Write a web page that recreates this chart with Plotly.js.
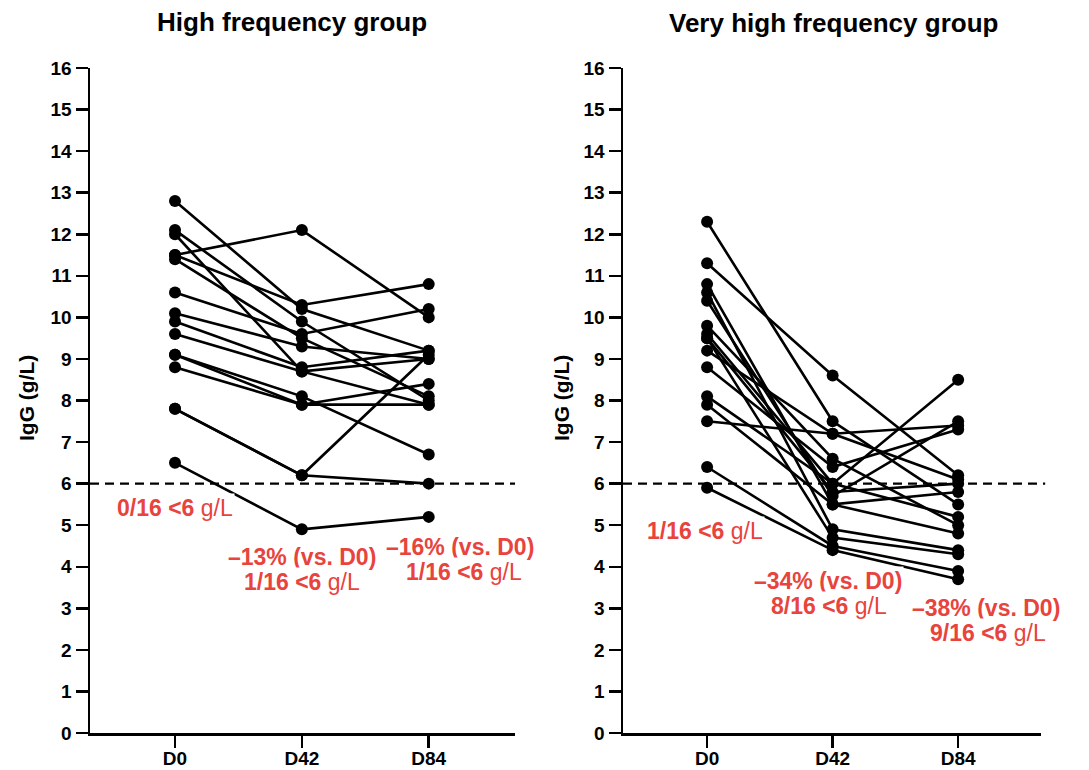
<!DOCTYPE html>
<html>
<head>
<meta charset="utf-8">
<script src="https://cdn.plot.ly/plotly-3.0.1.min.js"></script>
<style>
html,body{margin:0;padding:0;background:#fff;}
#chart{width:1089px;height:770px;}
</style>
</head>
<body>
<div id="chart"></div>
<script>
// ---------- data ----------
const categories = ['D0', 'D42', 'D84'];

// High frequency group: one value per subject at each visit
const highD0  = [12.8, 11.5, 12.1, 12.0, 11.5, 11.4, 10.6, 10.1, 9.9, 9.6, 9.1, 9.1, 8.8, 7.8, 7.8, 6.5];
const highD42 = [10.2, 12.1, 9.9, 8.7, 10.3, 9.5, 9.6, 9.3, 8.8, 8.7, 8.1, 7.9, 7.9, 6.2, 6.2, 4.9];
const highD84 = [9.2, 10.0, 8.0, 7.9, 10.8, 8.1, 10.2, 9.0, 9.2, 9.0, 6.7, 7.9, 8.4, 6.0, 9.1, 5.2];

// Very high frequency group
const vhighD0  = [12.3, 11.3, 10.8, 10.6, 10.4, 9.8, 9.6, 9.5, 9.5, 9.2, 8.8, 8.1, 7.9, 7.5, 6.4, 5.9];
const vhighD42 = [7.5, 8.6, 5.5, 4.9, 5.7, 6.6, 6.0, 5.8, 4.7, 7.2, 6.4, 6.0, 5.5, 7.2, 4.5, 4.4];
const vhighD84 = [5.5, 6.2, 4.8, 4.4, 7.5, 5.0, 8.5, 6.0, 4.3, 6.1, 7.3, 5.2, 5.8, 7.4, 3.9, 3.7];

const THRESHOLD = 6;
const yMin = 0, yMax = 16, yStep = 1;

const panelTitles = ['High frequency group', 'Very high frequency group'];
const yAxisTitle = 'IgG (g/L)';

const highNotes  = ['<b>0/16 &lt;6</b> g/L', '<b>\u201313% (vs. D0)</b>', '<b>1/16 &lt;6</b> g/L', '<b>\u201316% (vs. D0)</b>', '<b>1/16 &lt;6</b> g/L'];
const vhighNotes = ['<b>1/16 &lt;6</b> g/L', '<b>\u201334% (vs. D0)</b>', '<b>8/16 &lt;6</b> g/L', '<b>\u201338% (vs. D0)</b>', '<b>9/16 &lt;6</b> g/L'];

// ---------- build ----------
const FONT = '"Liberation Sans", Arial, Helvetica, sans-serif';
const RED = '#e8433c';
const traces = [];

function addPanel(d0, d42, d84, xa, ya) {
  for (let i = 0; i < d0.length; i++) {
    traces.push({
      type: 'scatter',
      mode: 'lines+markers',
      x: categories,
      y: [d0[i], d42[i], d84[i]],
      xaxis: xa, yaxis: ya,
      line: {color: '#000', width: 2.6},
      marker: {color: '#000', size: 12},
      cliponaxis: false,
      hoverinfo: 'skip',
      showlegend: false
    });
  }
}
addPanel(highD0, highD42, highD84, 'x', 'y');
addPanel(vhighD0, vhighD42, vhighD84, 'x2', 'y2');

function xAxis(domain, range, anchor) {
  return {
    domain: domain, anchor: anchor, type: 'category', range: range,
    showline: true, linecolor: '#000', linewidth: 2.5,
    ticks: 'outside', ticklen: 12, tickwidth: 2.5, tickcolor: '#000',
    ticklabelstandoff: -5,
    tickfont: {family: FONT, size: 19, color: '#000', weight: 'bold'},
    showgrid: false, zeroline: false, fixedrange: true
  };
}
function yAxis(domain, anchor) {
  return {
    domain: domain, anchor: anchor, range: [yMin, yMax], tick0: yMin, dtick: yStep,
    showline: true, linecolor: '#000', linewidth: 2.5,
    ticks: 'outside', ticklen: 12, tickwidth: 2.5, tickcolor: '#000',
    tickfont: {family: FONT, size: 19, color: '#000', weight: 'bold'},
    showgrid: false, zeroline: false, fixedrange: true
  };
}

function note(text, x, y, xref, yref) {
  return {
    text: text, x: x, y: y, xref: xref, yref: yref, showarrow: false,
    xanchor: 'center', yanchor: 'middle',
    font: {family: FONT, size: 23, color: RED},
    bgcolor: '#ffffff', borderpad: 1
  };
}

const annotations = [
  {text: '<b>' + panelTitles[0] + '</b>', xref: 'paper', yref: 'paper', x: 292 / 1089, y: 1 - 22 / 770,
   showarrow: false, xanchor: 'center', yanchor: 'middle', font: {family: FONT, size: 26, color: '#000'}},
  {text: '<b>' + panelTitles[1] + '</b>', xref: 'paper', yref: 'paper', x: 833 / 1089, y: 1 - 23 / 770,
   showarrow: false, xanchor: 'center', yanchor: 'middle', font: {family: FONT, size: 26, color: '#000'}},
  {text: '<b>' + yAxisTitle + '</b>', xref: 'paper', yref: 'paper', x: 27 / 1089, y: 1 - 398 / 770, textangle: -90,
   showarrow: false, xanchor: 'center', yanchor: 'middle', font: {family: FONT, size: 21, color: '#000'}},
  {text: '<b>' + yAxisTitle + '</b>', xref: 'paper', yref: 'paper', x: 562 / 1089, y: 1 - 398 / 770, textangle: -90,
   showarrow: false, xanchor: 'center', yanchor: 'middle', font: {family: FONT, size: 21, color: '#000'}},
  note(highNotes[0], 0.0, 5.41, 'x', 'y'),
  note(highNotes[1], 1.0, 4.23, 'x', 'y'),
  note(highNotes[2], 1.0, 3.63, 'x', 'y'),
  note(highNotes[3], 2.25, 4.48, 'x', 'y'),
  note(highNotes[4], 2.28, 3.87, 'x', 'y'),
  note(vhighNotes[0], -0.02, 4.87, 'x2', 'y2'),
  note(vhighNotes[1], 0.96, 3.66, 'x2', 'y2'),
  note(vhighNotes[2], 0.97, 3.06, 'x2', 'y2'),
  note(vhighNotes[3], 2.22, 3.01, 'x2', 'y2'),
  note(vhighNotes[4], 2.24, 2.41, 'x2', 'y2')
];

const shapes = [
  {type: 'line', xref: 'x domain', yref: 'y', x0: 0, x1: 1, y0: THRESHOLD, y1: THRESHOLD,
   line: {color: '#000', width: 2.2, dash: '9px,6px'}, layer: 'above'},
  {type: 'line', xref: 'x2 domain', yref: 'y2', x0: 0, x1: 1.01, y0: THRESHOLD, y1: THRESHOLD,
   line: {color: '#000', width: 2.2, dash: '9px,6px'}, layer: 'above'}
];

const yDom = [1 - 733 / 770, 1 - 68 / 770];
const layout = {
  width: 1089, height: 770,
  margin: {l: 0, r: 0, t: 0, b: 0},
  paper_bgcolor: '#fff', plot_bgcolor: '#fff',
  showlegend: false, hovermode: false,
  font: {family: FONT, color: '#000'},
  xaxis: xAxis([90 / 1089, 515 / 1089], [-0.67, 2.68], 'y'),
  yaxis: yAxis(yDom, 'x'),
  xaxis2: xAxis([623 / 1089, 1041 / 1089], [-0.67, 2.66], 'y2'),
  yaxis2: yAxis(yDom, 'x2'),
  shapes: shapes,
  annotations: annotations
};

Plotly.newPlot('chart', traces, layout, {displayModeBar: false, staticPlot: true});
</script>
</body>
</html>
